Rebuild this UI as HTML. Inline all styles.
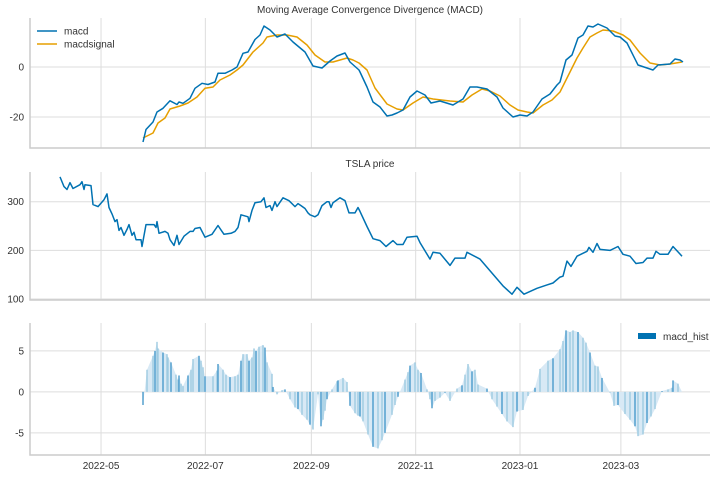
<!DOCTYPE html>
<html><head><meta charset="utf-8"><style>
body{margin:0;background:#fff;}
svg{display:block;font-family:"Liberation Sans",sans-serif;}
</style></head><body>
<svg id="c" width="720" height="477"></svg>
<script>
// x ticks (days since 2022-04-07)
const xTickDays=[24,85,147,208,269,328];
const xTickLabels=["2022-05","2022-07","2022-09","2022-11","2023-01","2023-03"];
// MACD line
const macdDays=[143,146,153,157,163,170,177,179,183,190,195,202,208,215,218,225,232,237,243,248,255,260,264,270,277,285,293,305,313,322,330,337,345,350,359,360,367,373,380,387,392,397,403,410,417,425,431,440,453,463,470,477,487,497,503,513,520,527,533,542,550,557,560,566,572,578,583,588,593,598,607,615,620,627,638,647,653,658,670,675,680,683].map(x=>(x-60)/1.71);
const macdVals=[-30,-25,-22,-18,-16.5,-13.5,-15,-14,-14.5,-12.5,-8.5,-6.5,-7,-6,-2.5,-2.5,-1.2,0,5.5,6,11,12.8,16.4,14.8,12,13.2,10,6,0.4,-0.4,2.4,4.4,5.6,2,-1.2,-2,-8,-14,-16,-19.6,-19.2,-18.4,-17.2,-12,-9.6,-11.2,-14.4,-13.6,-15.2,-12.8,-8,-8,-8.8,-12,-16.4,-20,-19.2,-19.6,-18,-12.8,-10.8,-7.2,-6,2.8,4.8,11.6,12.8,16.4,16,17.2,15.6,12.4,12,9.6,0.8,-0.4,-1.2,0.8,1.2,3.2,2.8,2];
// signal line
const sigDays=[143,153,158,165,170,180,188,197,205,213,220,230,237,243,253,263,267,277,287,297,307,315,325,333,347,353,359,367,375,387,397,403,413,423,433,450,463,472,482,490,500,510,518,527,533,543,552,560,567,577,583,590,597,603,613,623,630,640,650,660,670,682].map(x=>(x-60)/1.71);
const sigVals=[-28.4,-26.4,-22.4,-20.4,-16.8,-15.6,-14.4,-12,-8.5,-8,-5.2,-3.2,-1.2,0.8,6,9.6,12,12.8,12.8,12,8.8,4.8,2,2,3.6,2.8,1.6,-1.2,-8.4,-14.8,-16.8,-17.2,-14.4,-12,-12.8,-13.6,-14,-11.2,-8.8,-9.6,-11.6,-15.2,-17.2,-18,-18.4,-15.2,-13.2,-10,-4.4,3.6,7.6,12,13.6,14.8,14.4,12.8,10.8,5.6,1.6,0.8,1.2,2];
// price
const priceDays=[60,64,67,70,73,80,82,84,85,91,93,98,104,107,109,112,115,117,119,121,124,127,129,132,134,136,141,142,146,154,156,157,159,165,168,170,174,177,179,184,190,193,195,200,205,212,218,222,224,231,235,238,241,248,249,252,255,261,264,266,270,272,275,277,283,289,295,298,301,305,308,310,315,318,322,327,329,331,333,340,345,349,355,358,360,367,373,380,386,393,397,403,407,417,420,430,433,440,450,455,465,467,480,493,503,512,517,524,537,547,553,560,563,567,571,577,587,589,593,597,600,610,618,623,630,636,643,647,653,656,660,668,673,682].map(x=>(x-60)/1.71);
const priceVals=[351,331,325,339,327,335,341,325,335,333,294,290,304,316,288,275,259,263,241,247,231,243,253,231,237,222,222,208,253,253,247,259,235,239,235,222,210,231,212,229,239,239,245,247,227,233,251,239,233,235,239,247,273,269,259,282,298,300,308,288,292,282,300,290,308,302,290,296,292,286,277,273,269,273,292,300,300,288,298,308,302,277,277,288,280,249,224,220,208,220,212,212,227,229,216,182,196,194,169,184,184,196,182,151,127,110,124,110,122,129,133,145,147,178,167,188,198,206,196,214,202,200,208,192,188,173,175,184,184,198,192,192,208,188];
// histogram
const histDays=[143,147,153,155,157,158,163,167,168,171,176,178,179,181,183,188,191,193,199,201,203,205,213,217,218,223,226,230,235,238,241,243,247,249,252,254,256,259,263,265,267,272,273,277,282,285,290,295,298,302,307,310,313,318,321,323,325,327,332,337,338,343,347,350,355,358,360,363,368,373,378,382,385,392,395,398,405,408,410,415,418,421,427,430,432,435,440,445,450,457,462,465,468,472,475,478,487,492,497,502,507,513,517,523,528,535,540,548,553,560,563,566,570,573,578,583,586,590,595,598,602,610,614,618,625,630,635,638,643,647,651,655,662,668,672,673,678,682].map(x=>(x-60)/1.71);
const histVals=[-1.6,2.7,4.4,5,6.1,5.3,4.8,4.6,4.2,3.6,2.1,1.5,2,1,0.7,2,2.7,4,4.4,3.8,3,1.9,1.9,2.6,3.4,2.7,2.1,1.8,1.9,2.1,3.8,4.6,4.6,3.8,4.2,5.3,5,5.5,5.7,5.4,3.6,2.2,0.6,-0.3,0.2,0.3,-0.9,-1.9,-2.1,-2.8,-3.4,-4,-4.6,-0.3,-4.2,-3.4,-2.3,-0.9,0.3,1.3,1.4,1.7,1.2,-1.7,-2.6,-2.9,-3,-3.6,-5.2,-6.7,-6.9,-5.9,-5,-2.8,-1.6,-0.6,1.5,2.4,3.2,3.6,2.7,2.3,0.3,-0.9,-2,-1.1,-0.7,-0.1,-1.1,0.4,0.8,2.1,3.4,2.5,2.7,0.9,0.4,-0.9,-1.8,-2.7,-3.6,-4.3,-2.4,-2.2,-0.5,0.5,2.8,3.8,4.1,5.2,6.2,7.5,7.3,7.5,7.3,6.6,6,4.8,3.2,3.1,1.7,-0.1,-1.7,-1.6,-2.7,-3.4,-4.2,-5.4,-5.2,-3.8,-3,-2.1,0.1,0.3,0.5,1.4,1,0];

const NS="http://www.w3.org/2000/svg";
const svg=document.getElementById('c');
function mk(tag,attrs,parent){const e=document.createElementNS(NS,tag);for(const k in attrs)e.setAttribute(k,attrs[k]);(parent||svg).appendChild(e);return e;}
const X0=30,X1=710;
const xs=d=>60+d*1.71;
function panel(name,top,bot,vmin,vmax,yticks,ylabels,showX){
  const g=mk('g',{});
  
  
  const ys=v=>bot-(v-vmin)/(vmax-vmin)*(bot-top);
  xTickDays.forEach((d,i)=>{
    const l=mk('line',{x1:xs(d),x2:xs(d),y1:top,y2:bot,stroke:'#dddddd','stroke-width':1},g);
    
    
    if(showX){const t=mk('text',{x:xs(d),y:bot+14,'text-anchor':'middle','font-size':10,fill:'#333'},g);t.textContent=xTickLabels[i];
      
      }
  });
  yticks.forEach((v,i)=>{
    const l=mk('line',{x1:X0,x2:X1,y1:ys(v),y2:ys(v),stroke:'#dddddd','stroke-width':1},g);
    
    
    const t=mk('text',{x:X0-6,y:ys(v)+3.5,'text-anchor':'end','font-size':10,fill:'#333'},g);t.textContent=ylabels[i];
    
    
  });
  const sp=mk('path',{d:`M${X0},${top}V${bot}H${X1}`,fill:'none',stroke:'#cccccc','stroke-width':1.5},g);
  
  
  return {g,ys};
}
function line(p,days,vals,color,name){
  const d=days.map((dd,i)=>(i?'L':'M')+xs(dd).toFixed(1)+','+p.ys(vals[i]).toFixed(1)).join('');
  const e=mk('path',{d,fill:'none',stroke:color,'stroke-width':1.5,'stroke-linejoin':'round'},p.g);
  
  
}
// Panel 1
const p1=panel('macd-panel',18,148,-32.4,19.6,[0,-20],['0','-20'],false);
line(p1,sigDays,sigVals,'#e69f00','macdsignal-line');
line(p1,macdDays,macdVals,'#0072b2','macd-line');
const t1=mk('text',{x:370,y:13,'text-anchor':'middle','font-size':10,fill:'#333'});t1.textContent='Moving Average Convergence Divergence (MACD)';


const lg=mk('g',{});


mk('line',{x1:37,x2:57,y1:31,y2:31,stroke:'#0072b2','stroke-width':1.5},lg);
mk('line',{x1:37,x2:57,y1:44,y2:44,stroke:'#e69f00','stroke-width':1.5},lg);
let tt=mk('text',{x:64,y:34.5,'font-size':10,fill:'#333'},lg);tt.textContent='macd';
tt=mk('text',{x:64,y:47.5,'font-size':10,fill:'#333'},lg);tt.textContent='macdsignal';
// Panel 2
const p2=panel('price-panel',172,300,98,361,[300,200,100],['300','200','100'],false);
line(p2,priceDays,priceVals,'#0072b2','price-line');
const t2=mk('text',{x:370,y:167,'text-anchor':'middle','font-size':10,fill:'#333'});t2.textContent='TSLA price';


// Panel 3
const p3=panel('hist-panel',323,455,-7.7,8.4,[5,0,-5],['5','0','-5'],true);
const z=p3.ys(0);
let ad='M'+xs(histDays[0]).toFixed(1)+','+z.toFixed(1);
histDays.forEach((d,i)=>{ad+='L'+xs(d).toFixed(1)+','+p3.ys(histVals[i]).toFixed(1);});
ad+='L'+xs(histDays[histDays.length-1]).toFixed(1)+','+z.toFixed(1)+'Z';
const area=mk('path',{d:ad,fill:'#d8e9f5',stroke:'none'},p3.g);


histDays.forEach((d,i)=>{
  const y=p3.ys(histVals[i]);
  const r=mk('rect',{x:xs(d)-0.7,y:Math.min(y,z),width:1.4,height:Math.abs(z-y),fill:i%3==0?'#4a9acb':'#9ecae1'},p3.g);
  
  
});
const lg3=mk('g',{});


mk('rect',{x:638,y:333,width:18,height:6,fill:'#0072b2'},lg3);
tt=mk('text',{x:663,y:340,'font-size':10,fill:'#333'},lg3);tt.textContent='macd_hist';
</script>
</body></html>
